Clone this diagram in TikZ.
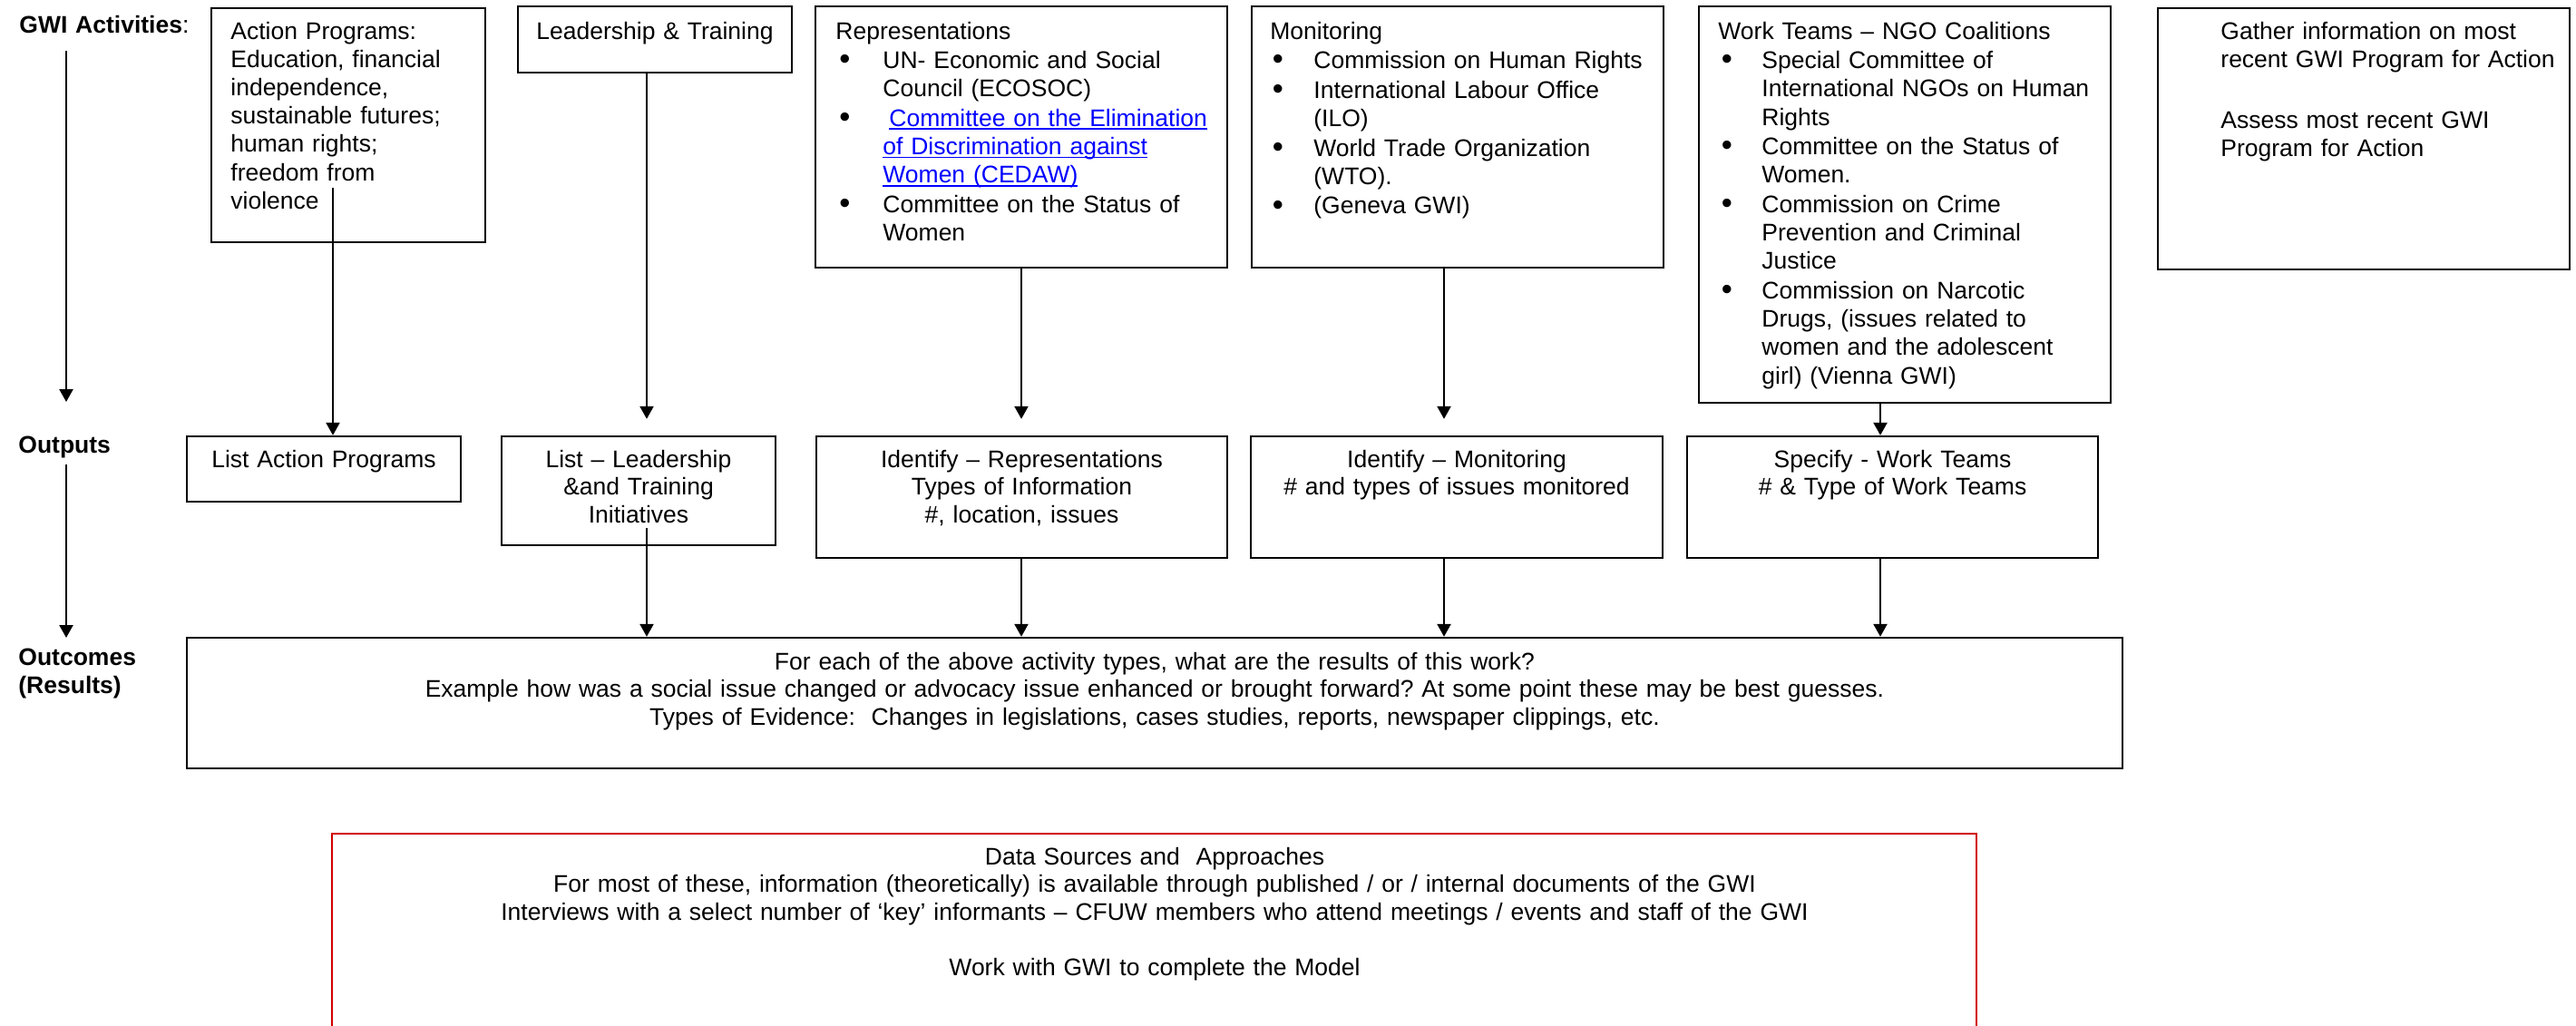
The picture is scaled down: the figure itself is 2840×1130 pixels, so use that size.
\documentclass[tikz,border=0pt]{standalone}
\usepackage{fontspec}
\setmainfont{Liberation Sans}
\usetikzlibrary{arrows.meta,fit}
\definecolor{linkblue}{RGB}{0,0,255}
\definecolor{boxred}{RGB}{208,0,0}
\newcommand\fs{\fontsize{13.25pt}{15.25pt}\selectfont\frenchspacing}
\newcommand\fsb{\fontsize{13.25pt}{15.6pt}\selectfont\frenchspacing}
\newlength\ulw
\newcommand\lnk[1]{\settowidth\ulw{#1}\rlap{\rule[-1.9pt]{\ulw}{0.95pt}}#1}
\newcommand\bitem[3]{\par\vspace{0.7pt}\noindent\hangindent=#1\hangafter=1\makebox[#1][l]{\hspace{#2}\raisebox{-0.6pt}{\scalebox{1.3}{\textbullet}}}#3\par}
\begin{document}
\begin{tikzpicture}[x=0.5pt,y=-0.5pt,
  box/.style={draw, line width=1.2pt, inner sep=0pt},
  arr/.style={-{Triangle[width=7.5pt,length=7pt]}, line width=1.2pt},
  txt/.style={inner sep=0pt, anchor=base west, align=left, font=\fsb},
  ctxt/.style={inner sep=0pt, anchor=base, align=center, font=\fs}]
\useasboundingbox (0,0) rectangle (2840,1130);
\clip (0,0) rectangle (2840,1130);

% row labels
\node[txt, text width=110pt] (lab1) at (21,36) {\textbf{GWI Activities}:};
\node[txt, text width=100pt] (lab2) at (20,499) {\textbf{Outputs}};
\node[txt, text width=100pt] (lab3) at (20,733) {\textbf{Outcomes}\newline\textbf{(Results)}};
\coordinate (l1a) at (73,56);  \coordinate (l1b) at (73,443);
\coordinate (l2a) at (73,512); \coordinate (l2b) at (73,703);
\draw[arr] (l1a) -- (l1b);
\draw[arr] (l2a) -- (l2b);

% activity boxes
\node[box, fit={(233,9) (535,267)}] (act) {};
\node[box, fit={(571,7) (873,80)}] (lead) {};
\node[box, fit={(899,7) (1353,295)}] (rep) {};
\node[box, fit={(1380,7) (1834,295)}] (mon) {};
\node[box, fit={(1873,7) (2327,444)}] (wt) {};
\node[box, fit={(2379,9) (2833,297)}] (gat) {};

\node[txt, text width=140pt] (actt) at (254,43) {Action Programs:\newline Education, financial\newline independence,\newline sustainable futures;\newline human rights;\newline freedom from\newline violence};
\node[ctxt, text width=150pt] (leadt) at (722,43) {Leadership \& Training};
\node[txt, text width=220pt] (rept) at (921,43) {Representations
\bitem{26pt}{2pt}{UN- Economic and Social\newline Council (ECOSOC)}
\bitem{26pt}{2pt}{\textcolor{linkblue}{\hspace{3.5pt}\lnk{Committee on the Elimination}\newline\lnk{of Discrimination against}\newline\lnk{Women (CEDAW)}}}
\bitem{26pt}{2pt}{Committee on the Status of\newline Women}};
\node[txt, text width=220pt] (mont) at (1400,43) {Monitoring
\bitem{24pt}{1.25pt}{Commission on Human Rights}
\bitem{24pt}{1.25pt}{International Labour Office\newline (ILO)}
\bitem{24pt}{1.25pt}{World Trade Organization\newline (WTO).}
\bitem{24pt}{1.25pt}{(Geneva GWI)}};
\node[txt, text width=215pt] (wtt) at (1894,43) {Work Teams – NGO Coalitions
\bitem{24pt}{1.75pt}{Special Committee of\newline International NGOs on Human\newline Rights}
\bitem{24pt}{1.75pt}{Committee on the Status of\newline Women.}
\bitem{24pt}{1.75pt}{Commission on Crime\newline Prevention and Criminal\newline Justice}
\bitem{24pt}{1.75pt}{Commission on Narcotic\newline Drugs, (issues related to\newline women and the adolescent\newline girl) (Vienna GWI)}};
\node[txt, text width=200pt] (gatt) at (2448,43) {Gather information on most\newline recent GWI Program for Action\par\vspace{18pt}Assess most recent GWI\newline Program for Action};

% output boxes
\node[box, fit={(206,481) (508,553)}] (o1) {};
\node[box, fit={(553,481) (855,601)}] (o2) {};
\node[box, fit={(900,481) (1353,615)}] (o3) {};
\node[box, fit={(1379,481) (1833,615)}] (o4) {};
\node[box, fit={(1860,481) (2313,615)}] (o5) {};
\node[ctxt, text width=145pt] (o1t) at (357,515) {List Action Programs};
\node[ctxt, text width=145pt] (o2t) at (704,515) {List – Leadership\\\&and Training\\Initiatives};
\node[ctxt, text width=220pt] (o3t) at (1126.5,515) {Identify – Representations\\Types of Information\\\#, location, issues};
\node[ctxt, text width=220pt] (o4t) at (1606,515) {Identify – Monitoring\\\# and types of issues monitored};
\node[ctxt, text width=220pt] (o5t) at (2086.5,515) {Specify - Work Teams\\\# \& Type of Work Teams};

% outcomes
\node[box, fit={(206,703) (2340,847)}] (out) {};
\node[ctxt, text width=1050pt] (outt) at (1273,738) {For each of the above activity types, what are the results of this work?\\Example how was a social issue changed or advocacy issue enhanced or brought forward? At some point these may be best guesses.\\Types of Evidence:\ \ Changes in legislations, cases studies, reports, newspaper clippings, etc.};

% data sources
\node[draw=boxred, line width=1pt, inner sep=0pt, fit={(366,919) (2179,1180)}] (red) {};
\node[ctxt, text width=890pt] (redt) at (1273,953) {Data Sources and\ \ Approaches\\For most of these, information (theoretically) is available through published / or / internal documents of the GWI\\Interviews with a select number of ‘key’ informants – CFUW members who attend meetings / events and staff of the GWI\\\mbox{}\\Work with GWI to complete the Model};

% connectors
\coordinate (xb) at (713,0);
\coordinate (xc) at (1126,0);
\coordinate (xd) at (1592,0);
\coordinate (xe) at (2073,0);
\coordinate (actin) at (367,207);
\coordinate (o2in) at (713,582);
\draw[arr] (actin) -- (actin |- o1.north);
\draw[arr, shorten >=9pt] (xb |- lead.south) -- (xb |- o2.north);
\draw[arr, shorten >=9pt] (xc |- rep.south) -- (xc |- o3.north);
\draw[arr, shorten >=9pt] (xd |- mon.south) -- (xd |- o4.north);
\draw[arr] (xe |- wt.south) -- (xe |- o5.north);
\draw[arr] (o2in) -- (o2in |- out.north);
\draw[arr] (xc |- o3.south) -- (xc |- out.north);
\draw[arr] (xd |- o4.south) -- (xd |- out.north);
\draw[arr] (xe |- o5.south) -- (xe |- out.north);
\end{tikzpicture}
\end{document}
